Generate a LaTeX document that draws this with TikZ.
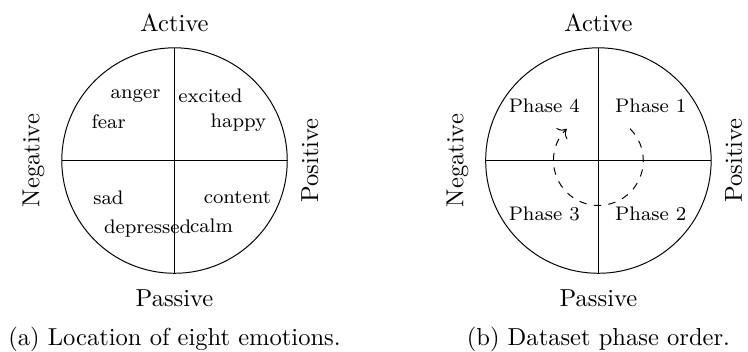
\documentclass[tikz,border=0pt]{standalone}
\usepackage{tikz}
\usetikzlibrary{calc}
\usetikzlibrary{arrows.meta}
\tikzset{
  emotion/.style = {anchor=base, font=\footnotesize}
}
\tikzset{
  phase/.style = {anchor=base, font=\footnotesize}
}
\tikzset{
  >={To[length=3pt]}
}
\newcommand{\circrad}{1.615}
\newcommand{\drawvalence}[1]{
  \coordinate (#1-n) at (0,\circrad);
  \coordinate (#1-s) at (0,-\circrad);
  \coordinate (#1-w) at (-\circrad,0);
  \coordinate (#1-e) at (\circrad,0);
  \draw (0,0) circle[radius=\circrad];
  \draw (#1-w) -- (#1-e);
  \draw (#1-n) -- (#1-s);
  \node[above=3pt] (#1-active) at (#1-n) {Active};
  \node[below=3pt] (#1-passive) at (#1-s) {Passive};
  \node[rotate=90, anchor=south] (#1-negative) at ([xshift=-3.5pt]#1-w) {Negative};
  \node[rotate=90, anchor=north] (#1-positive) at ([xshift=2.2pt]#1-e) {Positive};
}

\begin{document}
\begin{tikzpicture}
  \useasboundingbox (-2.50,-2.729) rectangle (8.215,2.300);

  % (a) emotions
  \drawvalence{a}
  \foreach \word/\x/\y in {anger/-0.557/0.882, excited/0.514/0.833,
    fear/-0.943/0.453, happy/0.914/0.467, sad/-0.947/-0.629,
    content/0.900/-0.614, depressed/-0.386/-1.047, calm/0.529/-1.033}
    \node[emotion] (\word) at (\x,\y) {\word};
  \node[anchor=base] (a-caption) at (0,-2.653) {(a) Location of eight emotions.};

  % (b) phases
  \begin{scope}[xshift=6.072cm]
    \drawvalence{b}
    \foreach \n/\x/\y in {1/0.75/0.682, 2/0.75/-0.857, 3/-0.775/-0.857, 4/-0.775/0.682}
      \node[phase] (phase\n) at (\x,\y) {Phase \n};
    \coordinate (order-start) at (45:0.643);
    \draw[dashed, ->] (order-start) arc[radius=0.643, start angle=45, end angle=-225];
    \node[anchor=base] (b-caption) at (0,-2.653) {(b) Dataset phase order.};
  \end{scope}
\end{tikzpicture}
\end{document}
